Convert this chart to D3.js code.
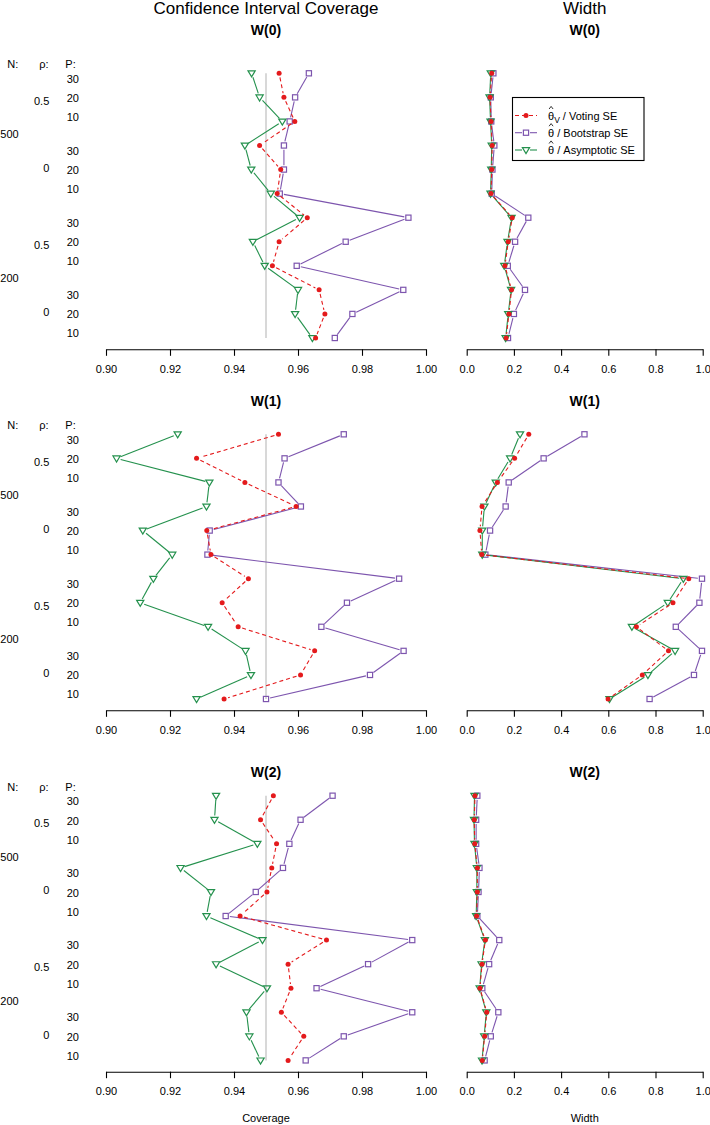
<!DOCTYPE html>
<html><head><meta charset="utf-8">
<script src="https://cdn.jsdelivr.net/npm/d3@7"></script>
<style>
body{margin:0;background:#fff;}
text{font-family:"Liberation Sans",Arial,Helvetica,sans-serif;fill:#000;}
</style></head>
<body><svg id="c" width="710" height="1125"></svg>
<script>
// ---------- data ----------
const panels = ["W(0)", "W(1)", "W(2)"];
const Nlabels = ["500", "200"];
const rhoLabels = ["0.5", "0", "0.5", "0"];
const Plabels = ["30", "20", "10"];
const seriesNames = ["Voting SE", "Bootstrap SE", "Asymptotic SE"];
const covTicks = [0.90, 0.92, 0.94, 0.96, 0.98, 1.00];
const widTicks = [0.0, 0.2, 0.4, 0.6, 0.8, 1.0];

// Coverage: rows top→bottom (N=500 rho=.5 P=30,20,10; rho=0 P=30,20,10; N=200 ...)
const covVoting = [
  [0.9541, 0.9556, 0.9590, 0.9480, 0.9546, 0.9535, 0.9629, 0.9541, 0.9520, 0.9666, 0.9684, 0.9655],
  [0.9539, 0.9283, 0.9434, 0.9594, 0.9315, 0.9328, 0.9445, 0.9363, 0.9413, 0.9652, 0.9608, 0.9369],
  [0.9523, 0.9483, 0.9533, 0.9518, 0.9503, 0.9419, 0.9689, 0.9569, 0.9578, 0.9548, 0.9618, 0.9569]
];
const covBoot = [
  [0.9634, 0.9591, 0.9574, 0.9556, 0.9556, 0.9543, 0.9945, 0.9749, 0.9596, 0.9929, 0.9770, 0.9715],
  [0.9743, 0.9558, 0.9539, 0.9609, 0.9324, 0.9317, 0.9916, 0.9753, 0.9673, 0.9930, 0.9825, 0.9500],
  [0.9708, 0.9608, 0.9573, 0.9553, 0.9468, 0.9374, 0.9957, 0.9819, 0.9658, 0.9957, 0.9743, 0.9624]
];
const covAsym = [
  [0.9455, 0.9480, 0.9551, 0.9434, 0.9454, 0.9515, 0.9605, 0.9459, 0.9496, 0.9600, 0.9591, 0.9645],
  [0.9224, 0.9033, 0.9323, 0.9314, 0.9115, 0.9207, 0.9148, 0.9107, 0.9319, 0.9436, 0.9453, 0.9283],
  [0.9344, 0.9339, 0.9473, 0.9233, 0.9328, 0.9314, 0.9489, 0.9344, 0.9503, 0.9439, 0.9448, 0.9483]
];
// Width
const widVoting = [
  [0.106, 0.099, 0.103, 0.108, 0.106, 0.103, 0.193, 0.176, 0.162, 0.190, 0.179, 0.167],
  [0.263, 0.203, 0.130, 0.065, 0.056, 0.064, 0.941, 0.874, 0.719, 0.855, 0.744, 0.599],
  [0.035, 0.032, 0.034, 0.045, 0.045, 0.042, 0.079, 0.065, 0.056, 0.085, 0.076, 0.066]
];
const widBoot = [
  [0.113, 0.102, 0.104, 0.117, 0.109, 0.106, 0.261, 0.205, 0.174, 0.247, 0.200, 0.175],
  [0.499, 0.326, 0.178, 0.165, 0.099, 0.079, 0.997, 0.986, 0.886, 0.997, 0.963, 0.775],
  [0.045, 0.040, 0.040, 0.054, 0.050, 0.045, 0.138, 0.095, 0.066, 0.134, 0.102, 0.076]
];
const widAsym = [
  [0.102, 0.097, 0.101, 0.106, 0.104, 0.101, 0.190, 0.173, 0.159, 0.188, 0.176, 0.165],
  [0.226, 0.184, 0.123, 0.075, 0.066, 0.066, 0.918, 0.852, 0.700, 0.883, 0.768, 0.605],
  [0.033, 0.031, 0.033, 0.043, 0.043, 0.040, 0.077, 0.063, 0.055, 0.083, 0.074, 0.065]
];

// ---------- layout ----------
const colors = {red: "#E41A1C", purple: "#7D55AE", green: "#24914D"};
const svg = d3.select("#c");
const xCov = d3.scaleLinear().domain([0.90, 1.00]).range([106, 426]);
const xWid = d3.scaleLinear().domain([0, 1]).range([466.7, 702.7]);
const panelTop = [73.3, 434.3, 795.7];
const titleY = [35, 405.5, 776.5];
const rowSpan = 264.7;

svg.append("text").attr("x", 266).attr("y", 13.5).attr("text-anchor", "middle")
  .style("font-size", "17px").text("Confidence Interval Coverage");
svg.append("text").attr("x", 584.7).attr("y", 13.5).attr("text-anchor", "middle")
  .style("font-size", "17px").text("Width");

function shortened(pts, gap) {
  const segs = [];
  for (let i = 0; i < pts.length - 1; i++) {
    const [x1, y1] = pts[i], [x2, y2] = pts[i + 1];
    const dx = x2 - x1, dy = y2 - y1, L = Math.hypot(dx, dy);
    if (L <= 2 * gap) continue;
    const ux = dx / L, uy = dy / L;
    segs.push([x1 + ux * gap, y1 + uy * gap, x2 - ux * gap, y2 - uy * gap]);
  }
  return segs;
}

function drawSeries(g, vals, x, y, color, kind, dashed) {
  const pts = vals.map((v, i) => [x(v), y(i)]);
  g.selectAll(null).data(shortened(pts, 4.2)).enter().append("line")
    .attr("x1", d => d[0]).attr("y1", d => d[1]).attr("x2", d => d[2]).attr("y2", d => d[3])
    .attr("stroke", color).attr("stroke-width", 1.1)
    .attr("stroke-dasharray", dashed ? "4,3" : null);
  drawMarkers(g, pts, color, kind);
}
function drawMarkers(g, pts, color, kind) {
  if (kind === "dot") {
    g.selectAll(null).data(pts).enter().append("circle")
      .attr("cx", d => d[0]).attr("cy", d => d[1]).attr("r", 2.5).attr("fill", color);
  } else if (kind === "square") {
    g.selectAll(null).data(pts).enter().append("rect")
      .attr("x", d => d[0] - 2.6).attr("y", d => d[1] - 2.6).attr("width", 5.2).attr("height", 5.2)
      .attr("fill", "none").attr("stroke", color).attr("stroke-width", 1.2);
  } else {
    g.selectAll(null).data(pts).enter().append("path")
      .attr("d", d => `M${d[0] - 3.6},${d[1] - 2.4}L${d[0] + 3.6},${d[1] - 2.4}L${d[0]},${d[1] + 3.6}Z`)
      .attr("fill", "none").attr("stroke", color).attr("stroke-width", 1.2);
  }
}

panels.forEach((name, k) => {
  const top = panelTop[k];
  const y = d3.scaleLinear().domain([0, 11]).range([top, top + rowSpan]);
  const axisY = top + 276;

  // titles
  svg.append("text").attr("x", 266).attr("y", titleY[k]).attr("text-anchor", "middle")
    .style("font-size", "14px").style("font-weight", "bold").text(name);
  svg.append("text").attr("x", 584.7).attr("y", titleY[k]).attr("text-anchor", "middle")
    .style("font-size", "14px").style("font-weight", "bold").text(name);

  // left labels
  const lab = svg.append("g").style("font-size", "11px");
  lab.append("text").attr("x", 7.3).attr("y", top - 5).text("N:");
  lab.append("text").attr("x", 39.3).attr("y", top - 5).text("ρ:");
  lab.append("text").attr("x", 65.3).attr("y", top - 5).text("P:");
  for (let gi = 0; gi < 4; gi++) {
    Plabels.forEach((p, i) => {
      lab.append("text").attr("x", 79).attr("y", top + 5.7 + gi * 72 + i * 19.2 + 4)
        .attr("text-anchor", "end").text(p);
    });
    const rOff = [27.4, 94.6, 171.6, 239][gi];
    lab.append("text").attr("x", 49.3).attr("y", top + rOff + 4).attr("text-anchor", "end").text(rhoLabels[gi]);
  }
  Nlabels.forEach((n, i) => {
    lab.append("text").attr("x", 18.7).attr("y", top + [61, 205][i] + 4).attr("text-anchor", "end").text(n);
  });

  // reference line at 0.95
  svg.append("line").attr("x1", xCov(0.95)).attr("x2", xCov(0.95))
    .attr("y1", y(0)).attr("y2", y(11)).attr("stroke", "#BEBEBE").attr("stroke-width", 1.2);

  // axes
  const ac = svg.append("g").attr("transform", `translate(0,${axisY})`)
    .call(d3.axisBottom(xCov).tickValues(covTicks).tickFormat(d3.format(".2f")).tickSize(6.5).tickSizeOuter(0).tickPadding(9.5));
  const aw = svg.append("g").attr("transform", `translate(0,${axisY})`)
    .call(d3.axisBottom(xWid).tickValues(widTicks).tickFormat(d3.format(".1f")).tickSize(6.5).tickSizeOuter(0).tickPadding(9.5));
  [ac, aw].forEach(a => {
    a.selectAll("text").style("font-size", "11px").attr("fill", "#000")
      .style("font-family", "'Liberation Sans',Arial,sans-serif");
    a.selectAll("path,line").attr("stroke", "#000").attr("stroke-width", 1.1);
  });

  const gc = svg.append("g");
  drawSeries(gc, covBoot[k], xCov, y, colors.purple, "square", false);
  drawSeries(gc, covAsym[k], xCov, y, colors.green, "tri", false);
  drawSeries(gc, covVoting[k], xCov, y, colors.red, "dot", true);
  const gw = svg.append("g");
  drawSeries(gw, widBoot[k], xWid, y, colors.purple, "square", false);
  drawSeries(gw, widAsym[k], xWid, y, colors.green, "tri", false);
  drawSeries(gw, widVoting[k], xWid, y, colors.red, "dot", true);
});

// axis titles
svg.append("text").attr("x", 266).attr("y", 1122).attr("text-anchor", "middle").style("font-size", "11px").text("Coverage");
svg.append("text").attr("x", 584.7).attr("y", 1122).attr("text-anchor", "middle").style("font-size", "11px").text("Width");

// legend
const leg = svg.append("g");
leg.append("rect").attr("x", 512.5).attr("y", 97.5).attr("width", 131.5).attr("height", 63)
  .attr("fill", "#fff").attr("stroke", "#000").attr("stroke-width", 1.1);
const legY = [115.5, 132.7, 150];
const legStyle = [
  {c: colors.red, k: "dot", d: true},
  {c: colors.purple, k: "square", d: false},
  {c: colors.green, k: "tri", d: false}
];
legStyle.forEach((s, i) => {
  const yy = legY[i];
  if (s.d) {
    leg.append("line").attr("x1", 515).attr("x2", 537).attr("y1", yy).attr("y2", yy)
      .attr("stroke", s.c).attr("stroke-width", 1.1).attr("stroke-dasharray", "4,3");
  } else {
    leg.append("line").attr("x1", 515).attr("x2", 522).attr("y1", yy).attr("y2", yy).attr("stroke", s.c).attr("stroke-width", 1.1);
    leg.append("line").attr("x1", 530).attr("x2", 537).attr("y1", yy).attr("y2", yy).attr("stroke", s.c).attr("stroke-width", 1.1);
  }
  drawMarkers(leg, [[526, yy]], s.c, s.k);
  const t = leg.append("text").attr("x", 548).attr("y", yy + 4).style("font-size", "11px");
  t.append("tspan").text("θ");
  if (i === 0) t.append("tspan").attr("dy", 3).style("font-size", "8.5px").text("V");
  t.append("tspan").attr("dy", i === 0 ? -3 : 0).text(" / " + seriesNames[i]);
  // hat accent over theta
  const hx = 551.1, hy = yy - 6.5;
  leg.append("path").attr("d", `M${hx - 2},${hy}L${hx},${hy - 2.6}L${hx + 2},${hy}`)
    .attr("fill", "none").attr("stroke", "#000").attr("stroke-width", 0.8);
});
</script></body></html>
